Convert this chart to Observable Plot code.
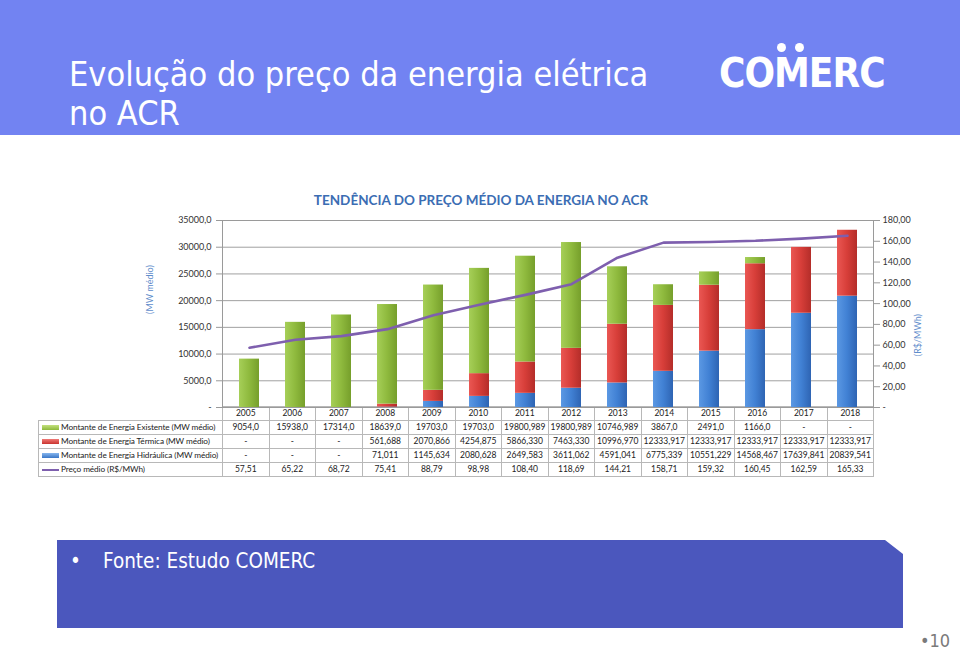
<!DOCTYPE html>
<html><head><meta charset="utf-8">
<script src="https://cdn.jsdelivr.net/npm/d3@7"></script>
<script src="https://cdn.jsdelivr.net/npm/@observablehq/plot@0.6"></script>
<style>
html,body{margin:0;padding:0}
body{width:960px;height:650px;position:relative;background:#fff;overflow:hidden;font-family:"DejaVu Sans Condensed","DejaVu Sans",sans-serif}
#header{position:absolute;left:0;top:0;width:960px;height:135px;background:#7283F2}
#title{position:absolute;left:69px;top:55px;color:#fff;font-size:34px;line-height:39px;white-space:nowrap}
#logo{position:absolute;left:719px;top:49px;color:#fff;font-weight:bold;font-size:40px;line-height:48px;letter-spacing:-1px}
.dot{position:absolute;width:9px;height:9px;border-radius:50%;background:#fff}
#ctitle{position:absolute;left:0;width:962px;top:192px;text-align:center;font:bold 13.5px Lato,sans-serif;color:#3B6DB3}
#chart{position:absolute;left:0;top:200px;z-index:2}
#tbl{position:absolute;left:38px;top:406px;border-collapse:collapse;table-layout:fixed;font:8.5px Lato,sans-serif;color:#222;z-index:1}
#tbl td{border:1px solid #B8B8B8;height:13px;padding:0;line-height:13px;text-align:center;white-space:nowrap;overflow:hidden}
#tbl td.lab{text-align:left;padding-left:3px;font-size:8.25px;letter-spacing:-0.1px}
#tbl td.corner{border:none}
.key{display:inline-block;width:17px;height:5px;margin-right:2px;vertical-align:middle}
.keyl{display:inline-block;width:17px;height:2px;margin-right:2px;vertical-align:middle;background:#7E5FAE}
#footer{position:absolute;left:57px;top:540px;width:846px;height:88px;background:#4B57BD;clip-path:polygon(0 0,828px 0,846px 14px,846px 88px,0 88px)}
#footer .b{position:absolute;left:13px;top:9px;color:#fff;font-size:20.5px}
#footer .t{position:absolute;left:46px;top:9px;color:#fff;font-size:20.5px}
#page{position:absolute;left:920px;top:630px;color:#7a7a7a;font-size:18px}
</style>
</head><body>
<svg width="0" height="0" style="position:absolute">
 <defs>
  <linearGradient id="gG" x1="0" x2="1" y1="0" y2="0"><stop offset="0" stop-color="#A6CF58"/><stop offset="0.5" stop-color="#8FBA3E"/><stop offset="1" stop-color="#769F2B"/></linearGradient>
  <linearGradient id="gR" x1="0" x2="1" y1="0" y2="0"><stop offset="0" stop-color="#EA5753"/><stop offset="0.5" stop-color="#D73E39"/><stop offset="1" stop-color="#B42D29"/></linearGradient>
  <linearGradient id="gB" x1="0" x2="1" y1="0" y2="0"><stop offset="0" stop-color="#5B98E3"/><stop offset="0.5" stop-color="#4181D4"/><stop offset="1" stop-color="#2E64B3"/></linearGradient>
 </defs>
</svg>
<div id="header">
 <div id="title">Evolução do preço da energia elétrica<br>no ACR</div>
 <div id="logo">CO<span id="logoM">M</span>ERC</div>
 <div class="dot" id="d1"></div>
 <div class="dot" id="d2"></div>
</div>
<div id="ctitle">TENDÊNCIA DO PREÇO MÉDIO DA ENERGIA NO ACR</div>
<div id="chart"></div>
<table id="tbl"></table>
<div id="footer"><span class="b">•</span><span class="t">Fonte: Estudo COMERC</span></div>
<div id="page">•10</div>
<script>
// ---- data ----
const years = ["2005","2006","2007","2008","2009","2010","2011","2012","2013","2014","2015","2016","2017","2018"];
const existente = [9054.0,15938.0,17314.0,18639.0,19703.0,19703.0,19800.989,19800.989,10746.989,3867.0,2491.0,1166.0,null,null];
const termica = [null,null,null,561.688,2070.866,4254.875,5866.330,7463.330,10996.970,12333.917,12333.917,12333.917,12333.917,12333.917];
const hidraulica = [null,null,null,71.011,1145.634,2080.628,2649.583,3611.062,4591.041,6775.339,10551.229,14568.467,17639.841,20839.541];
const preco = [57.51,65.22,68.72,75.41,88.79,98.98,108.40,118.69,144.21,158.71,159.32,160.45,162.59,165.33];
const seriesNames = ["Montante de Energia Existente (MW médio)","Montante de Energia Térmica (MW médio)","Montante de Energia Hidráulica (MW médio)","Preço médio (R$/MWh)"];
const leftTicks = [0,5000,10000,15000,20000,25000,30000,35000];
const rightTicks = [0,20,40,60,80,100,120,140,160,180];

const K = 35000/180;
const fmtLeft = d => d === 0 ? "-" : d.toFixed(1).replace(".", ",");
const fmtRight = d => d === 0 ? "-" : d.toFixed(2).replace(".", ",");
const fmtMW = v => v == null ? "-" : (Number.isInteger(v) ? v.toFixed(1) : v.toFixed(3)).replace(".", ",");

const stacked = [];
years.forEach((y, i) => {
  if (hidraulica[i] != null) stacked.push({year: y, s: "H", v: hidraulica[i]});
  if (termica[i] != null) stacked.push({year: y, s: "T", v: termica[i]});
  if (existente[i] != null) stacked.push({year: y, s: "E", v: existente[i]});
});
const priceData = years.map((y, i) => ({year: y, p: preco[i]}));

const plot = Plot.plot({
  width: 960, height: 215,
  marginLeft: 222, marginRight: 87, marginTop: 20, marginBottom: 8,
  style: {background: "transparent", fontFamily: "Lato, sans-serif", fontSize: "9px", color: "#333"},
  x: {domain: years, axis: null, paddingInner: 0.57, paddingOuter: 0.285},
  y: {domain: [0, 35000]},
  color: {domain: ["H","T","E"], range: ["url(#gB)","url(#gR)","url(#gG)"]},
  marks: [
    Plot.gridY(leftTicks, {stroke: "#A0A0A0", strokeOpacity: 1}),
    Plot.frame({stroke: "#9A9A9A"}),
    Plot.barY(stacked, Plot.stackY({x: "year", y: "v", fill: "s", z: "s", order: ["H","T","E"]})),
    Plot.line(priceData, {x: "year", y: d => d.p * K, stroke: "#7E5FAE", strokeWidth: 2.6}),
    Plot.axisY({anchor: "left", label: null, ticks: leftTicks, tickFormat: fmtLeft, tickSize: 6, tickPadding: 5, stroke: "#9A9A9A", fill: "#333"}),
    Plot.axisY({anchor: "right", label: null, ticks: rightTicks.map(v => v * K), tickFormat: d => fmtRight(Math.round(d / K)), tickSize: 6, tickPadding: 3, stroke: "#9A9A9A", fill: "#333"}),
    Plot.text(["(MW médio)"], {frameAnchor: "left", dx: -72, rotate: -90, fill: "#5F8DCB", fontSize: 9}),
    Plot.text(["(R$/MWh)"], {frameAnchor: "right", dx: 45, rotate: -90, fill: "#5F8DCB", fontSize: 9})
  ]
});
document.getElementById("chart").appendChild(plot);

// ---- logo dots over the M ----
{
  const m = document.getElementById("logoM").getBoundingClientRect();
  const d1 = document.getElementById("d1"), d2 = document.getElementById("d2");
  d1.style.left = (m.left + m.width * 0.22 - 4.5) + "px"; d1.style.top = "43px";
  d2.style.left = (m.left + m.width * 0.72 - 4.5) + "px"; d2.style.top = "43px";
}

// ---- data table ----
const step = (960 - 222 - 87) / years.length;
const tbl = document.getElementById("tbl");
let html = `<colgroup><col style="width:184px">${years.map(() => `<col style="width:${step}px">`).join("")}</colgroup>`;
html += `<tr><td class="corner"></td>${years.map(y => `<td>${y}</td>`).join("")}</tr>`;
const rows = [
  {key: `<span class="key" style="background:linear-gradient(#C2E07E,#8DB83C)"></span>`, name: seriesNames[0], vals: existente.map(fmtMW)},
  {key: `<span class="key" style="background:linear-gradient(#F07A76,#C9332F)"></span>`, name: seriesNames[1], vals: termica.map(fmtMW)},
  {key: `<span class="key" style="background:linear-gradient(#86B6EE,#3A76C6)"></span>`, name: seriesNames[2], vals: hidraulica.map(fmtMW)},
  {key: `<span class="keyl"></span>`, name: seriesNames[3], vals: preco.map(fmtRight)}
];
rows.forEach(r => {
  html += `<tr><td class="lab">${r.key}${r.name}</td>${r.vals.map(v => `<td>${v}</td>`).join("")}</tr>`;
});
tbl.innerHTML = html;
tbl.style.width = (184 + step * years.length) + "px";
</script>
</body></html>
